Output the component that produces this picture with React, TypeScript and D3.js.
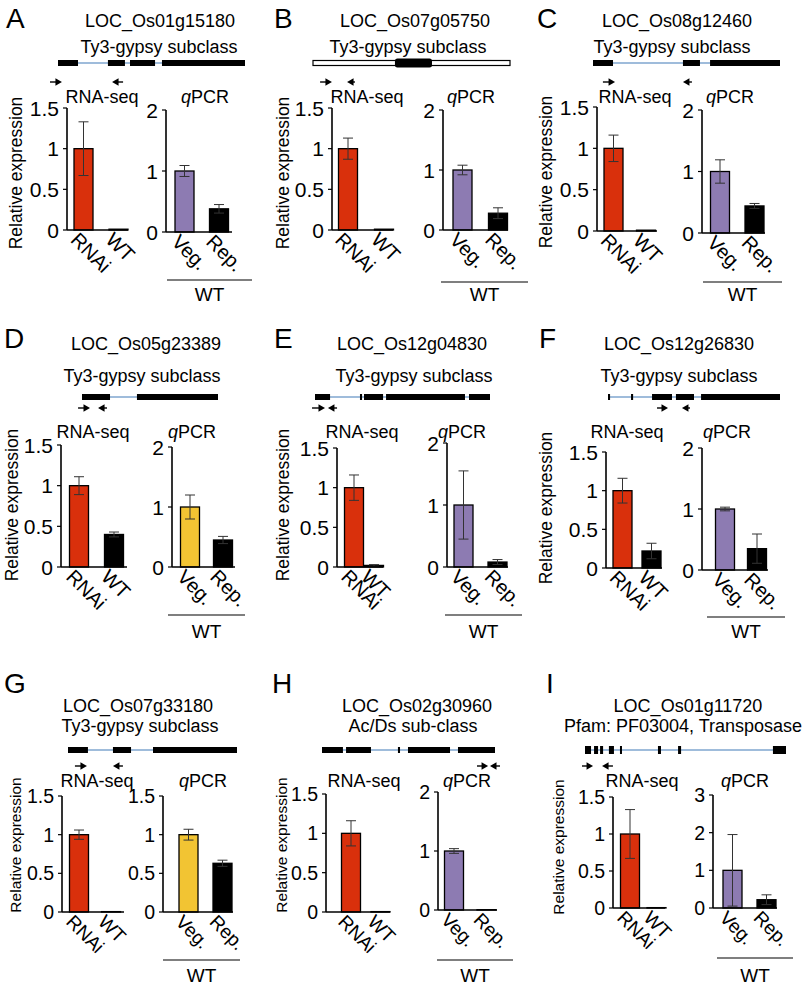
import React from "react";
import * as d3 from "d3";

// ---------------- DATA ----------------
const panelLetters = ["A", "B", "C", "D", "E", "F", "G", "H", "I"];
const geneIds = [
  "LOC_Os01g15180", "LOC_Os07g05750", "LOC_Os08g12460",
  "LOC_Os05g23389", "LOC_Os12g04830", "LOC_Os12g26830",
  "LOC_Os07g33180", "LOC_Os02g30960", "LOC_Os01g11720",
];
const geneClasses = [
  "Ty3-gypsy subclass", "Ty3-gypsy subclass", "Ty3-gypsy subclass",
  "Ty3-gypsy subclass", "Ty3-gypsy subclass", "Ty3-gypsy subclass",
  "Ty3-gypsy subclass", "Ac/Ds sub-class", "Pfam: PF03004, Transposase",
];
const rnaCategories = ["RNAi", "WT"];
const qpcrCategories = ["Veg.", "Rep."];
const rnaTitle = "RNA-seq";
const qpcrGroup = "WT";
const yAxisTitle = "Relative expression";

const rnaValues = [
  [1, 0.01], [1, 0.01], [1, 0.01],
  [1, 0.4], [1, 0.02], [1, 0.22],
  [1, 0.005], [1, 0.005], [1, 0.005],
];
const rnaErrors = [
  [0.33, 0], [0.13, 0], [0.16, 0],
  [0.11, 0.03], [0.16, 0.01], [0.16, 0.1],
  [0.06, 0], [0.16, 0], [0.33, 0],
];
const qpcrValues = [
  [1, 0.38], [1, 0.28], [1, 0.44],
  [1, 0.45], [1, 0.08], [1, 0.35],
  [1, 0.63], [1, 0.005], [1, 0.22],
];
const qpcrErrors = [
  [0.09, 0.07], [0.08, 0.09], [0.19, 0.04],
  [0.2, 0.06], [0.55, 0.04], [0.03, 0.24],
  [0.07, 0.04], [0.04, 0], [0.95, 0.13],
];
const rnaTicks = [
  [0, 0.5, 1, 1.5], [0, 0.5, 1, 1.5], [0, 0.5, 1, 1.5],
  [0, 0.5, 1, 1.5], [0, 0.5, 1, 1.5], [0, 0.5, 1, 1.5],
  [0, 0.5, 1, 1.5], [0, 0.5, 1, 1.5], [0, 0.5, 1, 1.5],
];
const qpcrTicks = [
  [0, 1, 2], [0, 1, 2], [0, 1, 2],
  [0, 1, 2], [0, 1, 2], [0, 1, 2],
  [0, 0.5, 1, 1.5], [0, 1, 2], [0, 1, 2, 3],
];
// gene models in relative units (0-100 = gene span)
const geneExons = [
  [[0, 10.7], [26.7, 35.8], [38.5, 51.9], [55.6, 100]],
  [[41.6, 60.4]],
  [[0, 10.7], [48.1, 57.2], [62.6, 100]],
  [[0, 20.6], [40.4, 100]],
  [[0, 8.6], [25.7, 26.9], [28, 38.9], [40.6, 85.7], [88, 100]],
  [[0, 1.2], [13.4, 14.6], [25.6, 37.2], [39.5, 50], [54.1, 100]],
  [[0, 11.8], [26.6, 37.3], [50.3, 100]],
  [[0, 12.1], [13.9, 28.3], [43.9, 45.1], [49.7, 74], [78.6, 100]],
  [[0, 3], [4.5, 6.5], [7.5, 9], [11.9, 14.4], [17.4, 18.4], [36.3, 37.8], [46.3, 47.8], [93.5, 100]],
];
const geneUtrs = [[], [[0, 100]], [], [], [], [], [], [], []];
const primerForward = [
  [-4.3, 2.1], [3.6, 9.6], [5.3, 11.8],
  [-2.9, 5.9], [-1.7, 5.7], [28.5, 34.9],
  [4.1, 11.2], [89.6, 96], [-1.5, 4],
];
const primerReverse = [
  [28.9, 34.8], [17.3, 21.3], [48.1, 52.9],
  [11.8, 18.4], [7.4, 12.6], [43, 47.7],
  [26.6, 32.5], [97.1, 102.9], [8.5, 13.9],
];
const yellowVegPanels = ["D", "G"];

// ---------------- LAYOUT / STYLE ----------------
const FONT = "'Liberation Sans', Arial, Helvetica, sans-serif";
const RED = "#d9300c";
const PURPLE = "#8d7bb2";
const YELLOW = "#f2c433";
const INTRON = "#7fa6cf";

const rowY = [
  { letter: 28, title: 27, sub: 53, gene: 63, primer: 82, label: 103, wtText: 301 },
  { letter: 348, title: 350, sub: 382, gene: 397, primer: 408, label: 438, wtText: 638 },
  { letter: 693, title: 712, sub: 732, gene: 750, primer: 766, label: 787, wtText: 982 },
];

const layout = [
  { lx: 6, tx: 160, sx: 159, g: [58, 245], rl: 102, ql: 205, yl: [16, 173],
    rna: { x0: 67, x1: 128, c: [83.5, 118.5], top: 108, zero: 230 },
    q: { x0: 166, x1: 232, c: [184.5, 219], top: 110, zero: 232 }, wt: [167, 252, 280] },
  { lx: 274, tx: 415, sx: 408, g: [313, 510], rl: 367, ql: 471, yl: [283, 173],
    rna: { x0: 332, x1: 393, c: [348, 384], top: 108, zero: 230 },
    q: { x0: 443, x1: 508, c: [462.5, 498], top: 110, zero: 230 }, wt: [441, 528, 282] },
  { lx: 537, tx: 677, sx: 672, g: [593, 780], rl: 635, ql: 730, yl: [546, 172],
    rna: { x0: 597, x1: 657, c: [613.5, 646], top: 107, zero: 231 },
    q: { x0: 702, x1: 765, c: [720, 754.5], top: 110, zero: 233 }, wt: [703, 782, 282] },
  { lx: 4, tx: 146, sx: 142, g: [82, 218], rl: 93, ql: 192, yl: [12, 505],
    rna: { x0: 61, x1: 127, c: [79, 114], top: 445, zero: 567 },
    q: { x0: 172, x1: 235, c: [190, 223], top: 447, zero: 567 }, wt: [168, 245, 615] },
  { lx: 274, tx: 412, sx: 414, g: [315, 490], rl: 362, ql: 462, yl: [283, 505],
    rna: { x0: 337, x1: 383, c: [354, 374], top: 448, zero: 567 },
    q: { x0: 447, x1: 508, c: [463.5, 497.5], top: 443, zero: 567 }, wt: [445, 522, 615] },
  { lx: 539, tx: 679, sx: 679, g: [608, 780], rl: 627, ql: 727, yl: [546, 508],
    rna: { x0: 606, x1: 662, c: [622.5, 651.5], top: 452, zero: 568 },
    q: { x0: 702, x1: 768, c: [725, 757], top: 448, zero: 570 }, wt: [707, 785, 617] },
  { lx: 4, tx: 138, sx: 140, g: [68, 237], rl: 97, ql: 203, yl: [16, 845],
    rna: { x0: 62, x1: 124, c: [79, 111], top: 796, zero: 912 },
    q: { x0: 163, x1: 233, c: [188.5, 222.5], top: 796, zero: 912 }, wt: [163, 240, 960] },
  { lx: 272, tx: 417, sx: 413, g: [322, 495], rl: 364, ql: 467, yl: [282, 845],
    rna: { x0: 326, x1: 390, c: [351, 380.5], top: 794, zero: 912 },
    q: { x0: 438, x1: 497, c: [454, 486.5], top: 792, zero: 910 }, wt: [437, 513, 960] },
  { lx: 546, tx: 688, sx: 683, g: [585, 786], rl: 642, ql: 745, yl: [559, 847],
    rna: { x0: 613, x1: 665, c: [630, 656.5], top: 797, zero: 908 },
    q: { x0: 713, x1: 777, c: [732.5, 766.5], top: 795, zero: 908 }, wt: [717, 793, 958] },
];

type ChartProps = {
  geom: { x0: number; x1: number; c: number[]; top: number; zero: number };
  ticks: number[];
  values: number[];
  errors: number[];
  cats: string[];
  colors: string[];
  tickFont: number;
  catFont: number;
};

function BarChart({ geom, ticks, values, errors, cats, colors, tickFont, catFont }: ChartProps) {
  const y = d3.scaleLinear().domain([0, d3.max(ticks) as number]).range([geom.zero, geom.top]);
  const x = d3.scalePoint<string>().domain(cats).range([geom.c[0], geom.c[1]]);
  const bw = 19;
  const cap = 5;
  return (
    <g>
      {values.map((v, k) => {
        const cx = x(cats[k]) as number;
        return (
          <rect key={"b" + k} x={cx - bw / 2} y={y(v)} width={bw}
            height={Math.max(0, geom.zero - y(v))} fill={colors[k]} stroke="#000" strokeWidth={1.3} />
        );
      })}
      {values.map((v, k) => {
        const e = errors[k];
        if (!e) return null;
        const cx = x(cats[k]) as number;
        const yt = y(v + e);
        const yb = y(Math.max(0, v - e));
        return (
          <g key={"e" + k} stroke="#333" strokeWidth={1}>
            <line x1={cx} x2={cx} y1={yt} y2={yb} />
            <line x1={cx - cap} x2={cx + cap} y1={yt} y2={yt} />
            <line x1={cx - cap} x2={cx + cap} y1={yb} y2={yb} />
          </g>
        );
      })}
      <line x1={geom.x0} x2={geom.x0} y1={geom.top} y2={geom.zero} stroke="#000" strokeWidth={1.6} />
      <line x1={geom.x0} x2={geom.x1} y1={geom.zero} y2={geom.zero} stroke="#000" strokeWidth={1.6} />
      {ticks.map((t) => (
        <g key={"t" + t}>
          <line x1={geom.x0 - 4} x2={geom.x0} y1={y(t)} y2={y(t)} stroke="#000" strokeWidth={1.2} />
          <text x={geom.x0 - 8} y={y(t)} dy="0.36em" textAnchor="end" fontSize={tickFont}>
            {String(t)}
          </text>
        </g>
      ))}
      {cats.map((cat) => {
        const cx = x(cat) as number;
        const ax = cx - 14;
        const ay = geom.zero + 11;
        return (
          <text key={"l" + cat} x={ax} y={ay} fontSize={catFont} transform={`rotate(45 ${ax} ${ay})`}>
            {cat}
          </text>
        );
      })}
    </g>
  );
}

function Gene({ i }: { i: number }) {
  const L = layout[i];
  const row = rowY[Math.floor(i / 3)];
  const gx = d3.scaleLinear().domain([0, 100]).range([L.g[0], L.g[1]]);
  const gy = row.gene;
  const utrs = geneUtrs[i];
  const hasUtr = utrs.length > 0;
  const exH = i === 8 ? 8 : 6;
  const fw = primerForward[i];
  const rv = primerReverse[i];
  const py = row.primer;
  return (
    <g>
      {!hasUtr && (
        <line x1={gx(0)} x2={gx(100)} y1={gy} y2={gy} stroke={INTRON} strokeWidth={1.5} />
      )}
      {utrs.map((u, k) => (
        <rect key={"u" + k} x={gx(u[0])} y={gy - 2.5} width={gx(u[1]) - gx(u[0])} height={5}
          fill="#fff" stroke="#000" strokeWidth={1.2} />
      ))}
      {geneExons[i].map((e, k) => (
        <rect key={"x" + k} x={gx(e[0])} y={gy - (hasUtr ? 4.5 : exH / 2)}
          width={Math.max(1.8, gx(e[1]) - gx(e[0]))} height={hasUtr ? 9 : exH}
          rx={hasUtr ? 2.5 : 0} fill="#000" />
      ))}
      <line x1={gx(fw[0])} x2={gx(fw[1]) - 5} y1={py} y2={py} stroke="#000" strokeWidth={1.4} />
      <path d={`M${gx(fw[1])},${py} L${gx(fw[1]) - 6.5},${py - 3.8} L${gx(fw[1]) - 6.5},${py + 3.8} Z`} fill="#000" />
      <line x1={gx(rv[0]) + 5} x2={gx(rv[1])} y1={py} y2={py} stroke="#000" strokeWidth={1.4} />
      <path d={`M${gx(rv[0])},${py} L${gx(rv[0]) + 6.5},${py - 3.8} L${gx(rv[0]) + 6.5},${py + 3.8} Z`} fill="#000" />
    </g>
  );
}

function Panel({ i }: { i: number }) {
  const L = layout[i];
  const r = Math.floor(i / 3);
  const row = rowY[r];
  const tickFont = r === 2 ? 19.5 : 21;
  const yFont = r === 2 ? 15.5 : 17.5;
  const catFont = r === 2 ? 19 : 20;
  const vegColor = yellowVegPanels.includes(panelLetters[i]) ? YELLOW : PURPLE;
  return (
    <g>
      <text x={L.lx} y={row.letter} fontSize={28}>{panelLetters[i]}</text>
      <text x={L.tx} y={row.title} fontSize={18} textAnchor="middle">{geneIds[i]}</text>
      <text x={L.sx} y={row.sub} fontSize={18} textAnchor="middle">{geneClasses[i]}</text>
      <Gene i={i} />
      <text x={L.rl} y={row.label} fontSize={18} textAnchor="middle">{rnaTitle}</text>
      <text x={L.ql} y={row.label} fontSize={18} textAnchor="middle">
        <tspan fontStyle="italic">q</tspan>PCR
      </text>
      <text x={L.yl[0]} y={L.yl[1]} fontSize={yFont} textAnchor="middle" dy="0.35em"
        transform={`rotate(-90 ${L.yl[0]} ${L.yl[1]})`}>
        {yAxisTitle}
      </text>
      <BarChart geom={L.rna} ticks={rnaTicks[i]} values={rnaValues[i]} errors={rnaErrors[i]}
        cats={rnaCategories} colors={[RED, "#000"]} tickFont={tickFont} catFont={catFont} />
      <BarChart geom={L.q} ticks={qpcrTicks[i]} values={qpcrValues[i]} errors={qpcrErrors[i]}
        cats={qpcrCategories} colors={[vegColor, "#000"]} tickFont={tickFont} catFont={catFont} />
      <line x1={L.wt[0]} x2={L.wt[1]} y1={L.wt[2]} y2={L.wt[2]} stroke="#000" strokeWidth={1.2} />
      <text x={(L.wt[0] + L.wt[1]) / 2} y={row.wtText} fontSize={19} textAnchor="middle">{qpcrGroup}</text>
    </g>
  );
}

export default function App() {
  return (
    <svg width={805} height={990} viewBox="0 0 805 990"
      style={{ position: "absolute", left: 0, top: 0, display: "block", background: "#fff" }}
      fontFamily={FONT}>
      <rect x={0} y={0} width={805} height={990} fill="#fff" />
      {panelLetters.map((_, i) => <Panel key={i} i={i} />)}
    </svg>
  );
}
